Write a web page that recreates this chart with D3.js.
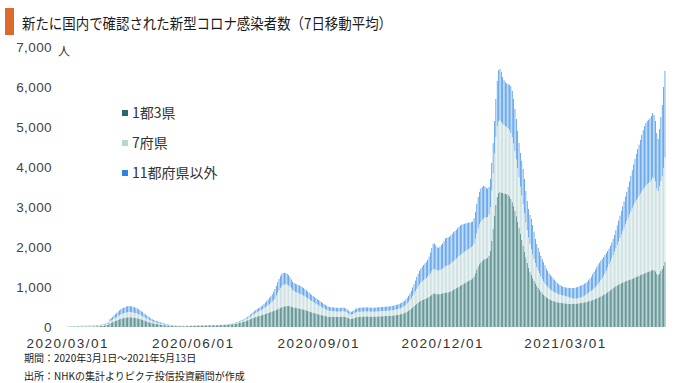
<!DOCTYPE html>
<html><head><meta charset="utf-8">
<script src="https://cdn.jsdelivr.net/npm/d3@7"></script>
<style>
html,body{margin:0;padding:0;background:#fff;}
svg{display:block;font-family:"Noto Sans CJK JP","Noto Sans",sans-serif;}
</style></head>
<body><svg id="c" width="680" height="383"></svg>
<script>
// ---- data ----
const title = "新たに国内で確認された新型コロナ感染者数（7日移動平均）";
const unitLabel = "人";
const seriesNames = ["1都3県", "7府県", "11都府県以外"];
const seriesColors = ["#226a6b", "#bad5d5", "#2c85e4"];
const startDate = [2020, 2, 1];   // 2020-03-01
const endDate = [2021, 4, 13];    // 2021-05-13
const xTickDates = [[2020,2,1],[2020,5,1],[2020,8,1],[2020,11,1],[2021,2,1]];
const xTickLabels = ["2020/03/01","2020/06/01","2020/09/01","2020/12/01","2021/03/01"];
const yTicks = [0,1000,2000,3000,4000,5000,6000,7000];
const notes = ["期間：2020年3月1日～2021年5月13日", "出所：NHKの集計よりピクテ投信投資顧問が作成"];

// 1都3県 (daily, Mar 2020 .. May 2021)
const dark = [].concat(
 [5,5,6,6,7,7,8,8,8,9,9,10,10,10,11,11,12,12,12,13,14,15,17,19,22,26,31,37,44,52,60],
 [92,104,118,134,148,162,178,194,206,215,222,229,236,241,244,243,240,236,232,226,219,210,199,188,176,163,151,139,127,115],
 [104,95,87,81,75,70,64,59,54,49,44,40,36,32,29,26,24,23,22,21,20,20,20,19,19,20,21,22,23,24,25],
 [28,30,31,32,33,33,34,35,36,37,38,39,40,41,41,42,42,43,44,45,46,47,49,51,53,56,59,62,65,68],
 [70,76,84,92,101,110,120,130,142,154,167,180,195,210,225,238,250,262,272,282,292,302,313,325,337,350,362,374,387,400,414],
 [428,445,462,478,492,505,515,522,525,524,518,508,495,485,478,472,466,460,452,444,435,425,414,402,390,378,366,355,345,335,325],
 [315,306,297,289,280,272,265,258,255,254,253,254,253,252,253,252,254,256,258,256,248,235,220,206,203,210,222,235,246,252],
 [255,256,258,260,262,263,262,261,259,258,257,258,260,262,264,266,268,269,271,272,274,275,277,280,283,287,291,296,302,309,317],
 [325,335,348,365,385,408,432,460,490,520,550,580,610,635,655,672,686,700,715,730,752,778,805,830,838,830,820,818,825,835],
 [842,850,858,862,866,875,890,910,930,950,970,990,1010,1030,1050,1070,1090,1110,1130,1150,1170,1190,1215,1260,1340,1430,1510,1570,1615,1650,1680],
 [1700,1710,1730,1780,1900,2150,2450,2780,3050,3250,3350,3370,3360,3350,3340,3330,3320,3300,3260,3200,3120,3020,2900,2770,2630,2480,2330,2180,2030,1880,1740],
 [1600,1480,1380,1300,1220,1150,1090,1030,980,930,880,840,800,770,745,720,700,680,665,650,640,630,620,612,605,600,596,592],
 [588,584,580,578,577,577,578,580,583,587,592,597,602,608,615,622,630,640,650,660,672,685,700,715,730,745,762,780,800,822,845],
 [870,895,920,945,970,995,1020,1040,1060,1080,1095,1110,1125,1140,1155,1165,1175,1190,1205,1220,1235,1250,1265,1280,1295,1310,1325,1340,1355,1370],
 [1380,1395,1410,1425,1420,1390,1330,1300,1340,1400,1450,1530,1625]
);
// 7府県
const light = [].concat(
 [8,8,9,9,9,10,10,10,10,10,11,11,11,11,12,12,12,12,13,13,13,14,14,15,16,17,19,21,23,26,29],
 [50,56,63,72,80,87,96,105,111,116,120,124,128,130,131,130,128,126,123,119,116,111,105,99,93,85,79,73,67,61],
 [53,48,43,40,37,34,31,28,25,23,20,18,16,14,12,11,10,9,8,7,7,6,6,6,6,6,6,6,6,7,7],
 [4,4,4,4,4,4,3,3,3,3,3,3,3,3,3,3,3,3,3,3,3,4,4,4,5,5,6,6,7,8],
 [12,14,17,20,24,28,32,37,42,48,54,61,69,77,85,94,102,110,118,126,135,145,157,170,183,198,213,229,246,265,288],
 [360,410,455,495,525,545,550,545,535,515,490,460,430,410,398,390,382,376,368,360,350,340,328,316,304,292,280,270,260,250,241],
 [225,214,204,193,183,172,164,155,150,147,144,143,140,137,136,134,135,136,137,135,131,124,115,107,105,109,116,123,128,131],
 [128,127,127,127,127,128,128,128,127,126,125,125,126,127,128,129,129,130,131,131,132,133,134,135,136,138,140,143,146,149,153],
 [160,168,178,190,205,222,242,265,290,315,345,375,405,430,452,470,485,498,512,525,545,565,588,610,615,605,595,592,598,606],
 [620,640,660,668,675,685,695,705,718,728,738,750,762,772,780,785,790,795,798,800,802,805,812,830,868,915,960,995,1015,1025,1035],
 [1040,1030,1020,1040,1100,1260,1400,1560,1700,1780,1800,1790,1760,1730,1710,1690,1680,1670,1660,1650,1620,1570,1500,1420,1340,1260,1180,1110,1040,960,880],
 [820,760,700,650,600,550,510,470,440,410,385,360,340,320,300,285,270,258,248,238,230,222,215,208,202,198,194,190],
 [186,180,172,160,150,142,135,130,128,130,134,140,148,158,170,185,200,215,230,245,260,280,300,325,350,380,410,445,480,520,560],
 [620,670,720,775,830,890,950,1015,1080,1150,1220,1290,1360,1430,1500,1570,1640,1700,1760,1820,1870,1920,1960,2000,2040,2080,2120,2150,2180,2200],
 [2220,2240,2270,2320,2300,2250,2140,2100,2180,2250,2320,2450,2620]
);
// 11都府県以外
const blue = [].concat(
 [7,7,7,8,8,8,8,9,9,9,9,10,10,10,10,10,11,11,11,11,12,12,13,13,14,15,16,18,20,23,26],
 [58,65,74,84,92,101,111,121,128,134,138,142,146,149,150,149,147,143,140,135,130,124,116,108,101,92,85,78,71,64],
 [58,52,48,44,40,36,33,30,27,24,22,20,18,16,14,13,11,10,9,8,7,6,5,5,5,5,5,5,5,5,5],
 [4,4,4,4,3,3,3,3,3,3,3,3,3,3,3,3,3,3,3,4,4,4,4,5,5,5,6,7,8,9],
 [13,15,17,18,20,22,23,23,26,28,34,39,46,53,60,68,73,78,80,82,88,98,110,120,130,142,155,167,187,215,248],
 [242,265,283,297,303,300,290,278,270,261,242,222,205,205,204,203,202,204,200,196,190,185,178,172,166,160,154,150,145,140,134],
 [135,130,124,118,112,106,101,97,95,94,93,93,92,91,91,89,89,90,90,89,86,81,75,72,72,76,82,87,91,92],
 [97,99,100,101,101,101,100,99,99,98,98,99,100,101,102,103,103,103,103,104,104,104,104,105,106,107,109,111,114,117,120],
 [125,127,129,135,140,150,166,185,210,235,265,295,315,335,353,368,379,392,403,425,463,517,577,640,637,605,575,570,587,609],
 [628,660,702,700,699,700,705,715,722,722,722,730,738,738,730,715,700,685,672,660,643,625,613,630,672,735,780,815,830,825,815],
 [780,740,710,680,700,690,750,810,950,1120,1270,1290,1260,1170,1120,1100,1090,1100,1130,1170,1160,1110,1050,1010,930,860,840,860,880,860,780],
 [730,710,720,750,730,680,600,580,560,540,515,500,480,450,415,395,380,362,347,332,310,288,265,250,243,232,220,218],
 [216,221,228,237,245,253,262,270,279,283,289,293,295,294,295,293,300,315,330,355,388,415,440,460,480,485,488,475,470,458,445],
 [410,395,390,390,400,415,450,485,520,550,585,620,655,690,725,765,825,890,955,1020,1095,1160,1225,1280,1345,1410,1475,1530,1565,1580],
 [1580,1585,1600,1605,1580,1510,1380,1300,1430,1600,1780,2020,2155]
);

// ---- chart ----
const svg = d3.select("#c");
const dates = d3.utcDay.range(Date.UTC(...startDate), Date.UTC(endDate[0], endDate[1], endDate[2] + 1));
const n = Math.min(dates.length, dark.length, light.length, blue.length);
const rows = d3.range(n).map(i => ({i, date: dates[i], a: dark[i], b: light[i], c: blue[i]}));

const x = d3.scaleBand().domain(d3.range(n)).range([67.3, 665.3]).paddingInner(0.5);
const y = d3.scaleLinear().domain([0, 7000]).range([327, 47]);

const stack = d3.stack().keys(["a","b","c"])(rows);

svg.append("g").selectAll("g").data(stack).join("g")
  .attr("fill", (d, k) => seriesColors[k])
  .selectAll("rect").data(d => d).join("rect")
  .attr("x", d => x(d.data.i))
  .attr("width", x.bandwidth())
  .attr("y", d => y(d[1]))
  .attr("height", d => Math.max(0, y(d[0]) - y(d[1])));

// title
svg.append("rect").attr("x", 5).attr("y", 8).attr("width", 9).attr("height", 27).attr("fill", "#dd6a2c");
svg.append("text").attr("x", 22).attr("y", 29).attr("font-size", 15).attr("fill", "#1a1a1a")
  .attr("textLength", 370).attr("lengthAdjust", "spacingAndGlyphs").text(title);

// y axis
const numFont = "'Liberation Sans',Arial,sans-serif";
const yAxis = d3.axisLeft(y).tickValues(yTicks).tickSize(0).tickPadding(0).tickFormat(d3.format(","));
const gy = svg.append("g").attr("transform", "translate(52,0)").call(yAxis);
gy.select(".domain").remove();
gy.selectAll("text").attr("font-size", 13.5).attr("fill", "#444").attr("letter-spacing", 0.4)
  .attr("font-family", numFont);
svg.append("text").attr("x", 58).attr("y", 56).attr("font-size", 12).attr("fill", "#333").text(unitLabel);

// x axis
const idxOf = t => d3.utcDay.count(Date.UTC(...startDate), Date.UTC(...t));
const xAxis = d3.axisBottom(x).tickValues(xTickDates.map(idxOf)).tickSize(0).tickPadding(0)
  .tickFormat((d, k) => xTickLabels[k]);
const gx = svg.append("g").attr("transform", "translate(0,347.5)").call(xAxis);
gx.select(".domain").remove();
gx.selectAll("text").attr("dy", 0).attr("font-size", 13.5).attr("fill", "#333").attr("letter-spacing", 1.5)
  .attr("font-family", numFont);

// legend
const lg = svg.append("g").selectAll("g").data(seriesNames).join("g")
  .attr("transform", (d, k) => `translate(122,${113 + k * 30})`);
lg.append("rect").attr("x", 0).attr("y", -3).attr("width", 6).attr("height", 6).attr("fill", (d, k) => seriesColors[k]);
lg.append("text").attr("x", 10).attr("y", 5).attr("font-size", 14).attr("fill", "#333").text(d => d);

// notes
svg.append("g").selectAll("text").data(notes).join("text")
  .attr("x", 24).attr("y", (d, k) => 362 + k * 18).attr("font-size", 10).attr("fill", "#222").text(d => d);
</script></body></html>
